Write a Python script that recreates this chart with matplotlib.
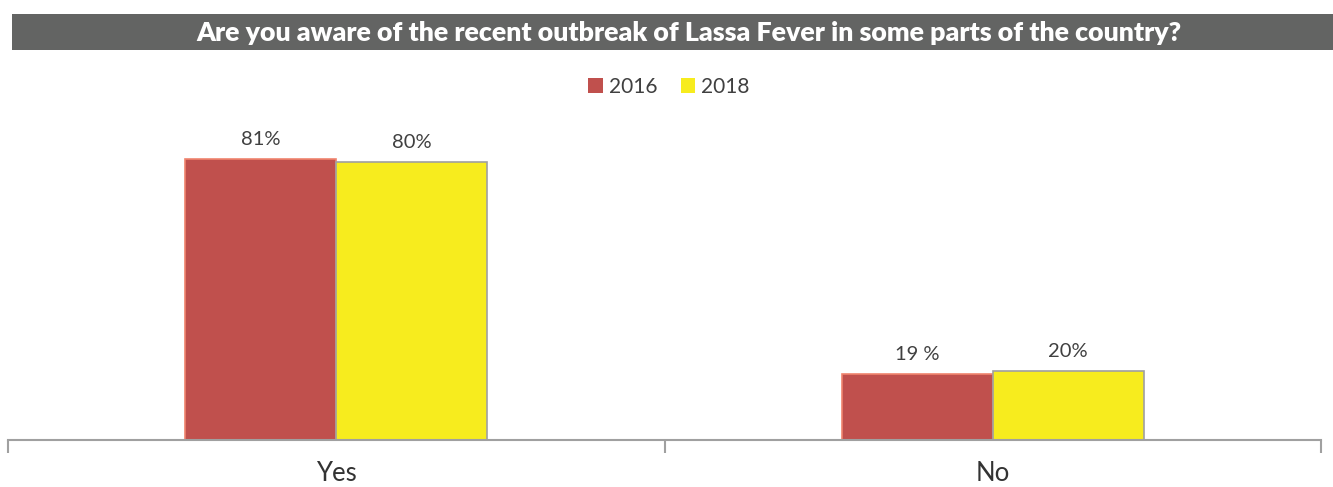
import matplotlib.pyplot as plt
from matplotlib.patches import Rectangle

categories = ["Yes", "No"]
years = ["2016", "2018"]
values_2016 = [81, 19]
values_2018 = [80, 20]
labels_2016 = ["81%", "19 %"]
labels_2018 = ["80%", "20%"]

title = "Are you aware of the recent outbreak of Lassa Fever in some parts of the country?"

plt.rcParams['font.family'] = ['Lato', 'DejaVu Sans']

W, H = 1333, 487
fig = plt.figure(figsize=(W / 100, H / 100), dpi=100)

# title bar
fig.patches.append(Rectangle((12 / W, 1 - 50 / H), 1 - 12 / W, 36 / H,
                             transform=fig.transFigure, facecolor='#636463',
                             edgecolor='none', zorder=0))
fig.text(689 / W, 1 - 33 / H, title, color='white', fontsize=19.3,
         fontweight='heavy', ha='center', va='center')

# axes: left 8, right 1321, bottom 440, top 100
ax = fig.add_axes([8 / W, 1 - 440 / H, 1313 / W, 340 / H])
ax.set_xlim(-0.5, 1.5)
ax.set_ylim(0, 98)

x = [0, 1]
w = 0.23
b1 = ax.bar([i - w / 2 for i in x], values_2016, w, color='#C0504D',
            edgecolor='#F0846E', linewidth=1.2, label=years[0], zorder=2)
b2 = ax.bar([i + w / 2 for i in x], values_2018, w, color='#F7EC1E',
            edgecolor='#A0A0A0', linewidth=1.2, label=years[1], zorder=2)

for rect, lab in zip(b1, labels_2016):
    ax.annotate(lab, (rect.get_x() + rect.get_width() / 2, rect.get_height()),
                xytext=(0, 8), textcoords='offset points', ha='center',
                va='bottom', fontsize=14.5, color='#404040')
for rect, lab in zip(b2, labels_2018):
    ax.annotate(lab, (rect.get_x() + rect.get_width() / 2, rect.get_height()),
                xytext=(0, 8), textcoords='offset points', ha='center',
                va='bottom', fontsize=14.5, color='#404040')

for s in ['top', 'right', 'left']:
    ax.spines[s].set_visible(False)
ax.spines['bottom'].set_color('#A0A0A0')
ax.spines['bottom'].set_linewidth(1.5)
ax.set_yticks([])
ax.set_xticks([-0.5, 0.5, 1.5], minor=False)
ax.set_xticklabels([])
ax.tick_params(axis='x', length=9, width=1.5, color='#A0A0A0')
ax.set_xticks(x, minor=True)
ax.set_xticklabels(categories, minor=True)
ax.tick_params(axis='x', which='minor', length=0, pad=15, labelsize=18.5,
               labelcolor='#333333')

leg = fig.legend(handles=[b1, b2], labels=years, loc='center',
                 bbox_to_anchor=(669 / W, 1 - 87 / H), ncol=2, frameon=False,
                 fontsize=15, handlelength=0.7, handleheight=0.7,
                 handletextpad=0.3, columnspacing=1.1, labelcolor='#404040')
for h in leg.legend_handles:
    h.set_edgecolor('none')

fig.savefig('out.png', dpi=100)
